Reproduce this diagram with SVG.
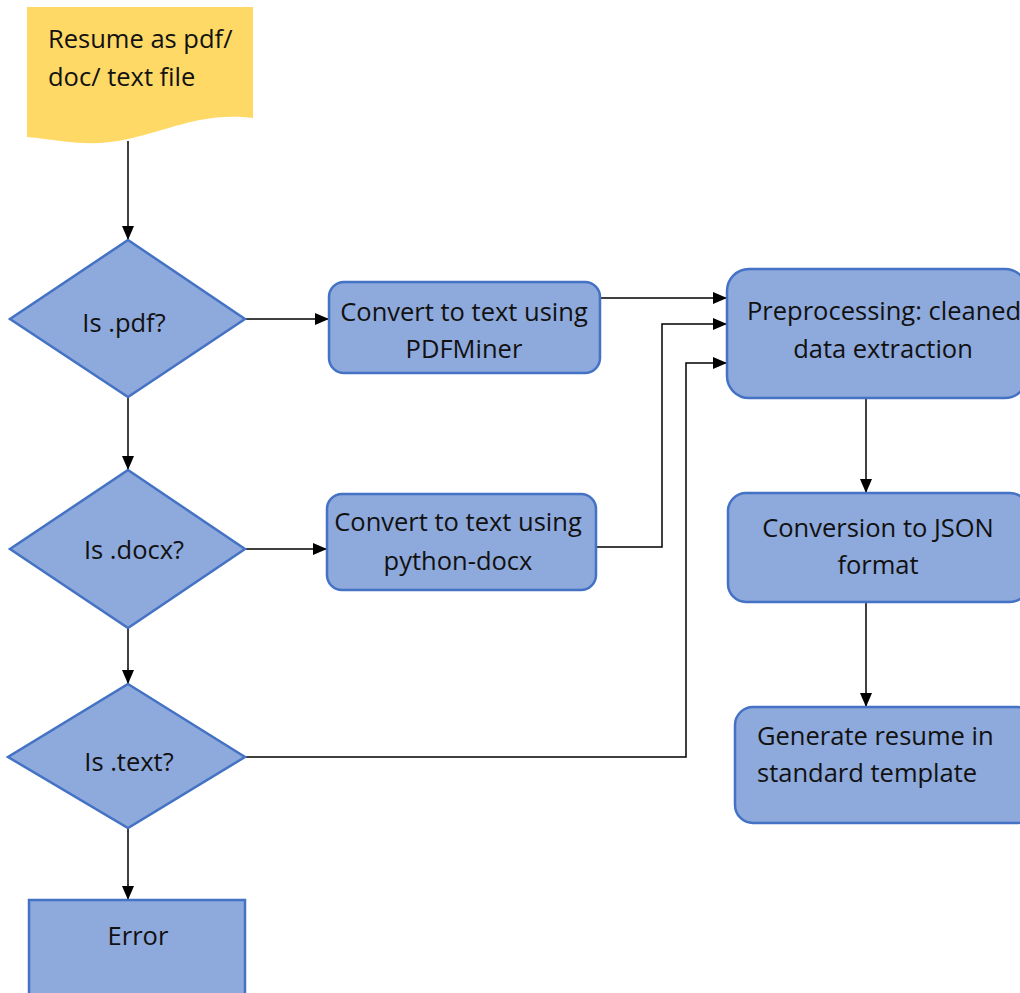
<svg xmlns="http://www.w3.org/2000/svg" width="1020" height="993" viewBox="0 0 1020 993">
<style>
.node{fill:#8EA9DB;stroke:#4472C4;stroke-width:2.5}
.doc{fill:#FFD966;stroke:none}
.t{font-family:"Open Sans",Lato,"Liberation Sans",sans-serif;font-size:25.5px;fill:#111}
.c{stroke:#000;stroke-width:1.5;fill:none}
</style>
<defs>
<marker id="ah" markerUnits="userSpaceOnUse" markerWidth="14" markerHeight="12" refX="14" refY="6" orient="auto">
<path d="M0,0 L14,6 L0,12 Z" fill="#000"/>
</marker>
</defs>
<rect width="1020" height="993" fill="#fff"/>
<g id="connectors">
<path class="c" d="M128,141 V240" marker-end="url(#ah)"/>
<path class="c" d="M245,319 H329" marker-end="url(#ah)"/>
<path class="c" d="M128,397 V470" marker-end="url(#ah)"/>
<path class="c" d="M245,549 H327" marker-end="url(#ah)"/>
<path class="c" d="M128,628 V684" marker-end="url(#ah)"/>
<path class="c" d="M128,828 V900" marker-end="url(#ah)"/>
<path class="c" d="M600,298 H727" marker-end="url(#ah)"/>
<path class="c" d="M596,547 H662 V324 H727" marker-end="url(#ah)"/>
<path class="c" d="M245,757 H686 V363 H727" marker-end="url(#ah)"/>
<path class="c" d="M866,398 V493" marker-end="url(#ah)"/>
<path class="c" d="M866,602 V707" marker-end="url(#ah)"/>
</g>
<g id="start">
<path class="doc" d="M27,7 H253 V118 C205,112 175,128 128,139 C88,148 60,140 27,137 Z"/>
<text class="t" x="48" y="48">Resume as pdf/</text>
<text class="t" x="48" y="86">doc/ text file</text>
</g>
<g id="is-pdf">
<polygon class="node" points="128,240 245,319 128,397 10,319"/>
<text class="t" x="124" y="332" text-anchor="middle">Is .pdf?</text>
</g>
<g id="pdfminer">
<rect class="node" x="329" y="282" width="271" height="91" rx="15"/>
<text class="t" x="464" y="321" text-anchor="middle">Convert to text using</text>
<text class="t" x="464" y="358" text-anchor="middle">PDFMiner</text>
</g>
<g id="is-docx">
<polygon class="node" points="128,470 245,549 128,628 10,549"/>
<text class="t" x="134" y="559" text-anchor="middle">Is .docx?</text>
</g>
<g id="python-docx">
<rect class="node" x="327" y="494" width="269" height="96" rx="15"/>
<text class="t" x="458" y="531" text-anchor="middle">Convert to text using</text>
<text class="t" x="458" y="570" text-anchor="middle">python-docx</text>
</g>
<g id="is-text">
<polygon class="node" points="128,684 245,757 128,828 8,757"/>
<text class="t" x="129" y="771" text-anchor="middle">Is .text?</text>
</g>
<g id="error">
<rect class="node" x="29" y="900" width="216" height="100"/>
<text class="t" x="138" y="945" text-anchor="middle">Error</text>
</g>
<g id="preprocessing">
<rect class="node" x="727" y="269" width="300" height="129" rx="22"/>
<text class="t" x="747" y="320">Preprocessing: cleaned</text>
<text class="t" x="883" y="358" text-anchor="middle">data extraction</text>
</g>
<g id="json">
<rect class="node" x="728" y="493" width="300" height="109" rx="18"/>
<text class="t" x="878" y="537" text-anchor="middle">Conversion to JSON</text>
<text class="t" x="878" y="574" text-anchor="middle">format</text>
</g>
<g id="generate">
<rect class="node" x="735" y="707" width="300" height="116" rx="18"/>
<text class="t" x="757" y="745">Generate resume in</text>
<text class="t" x="757" y="782">standard template</text>
</g>
</svg>
